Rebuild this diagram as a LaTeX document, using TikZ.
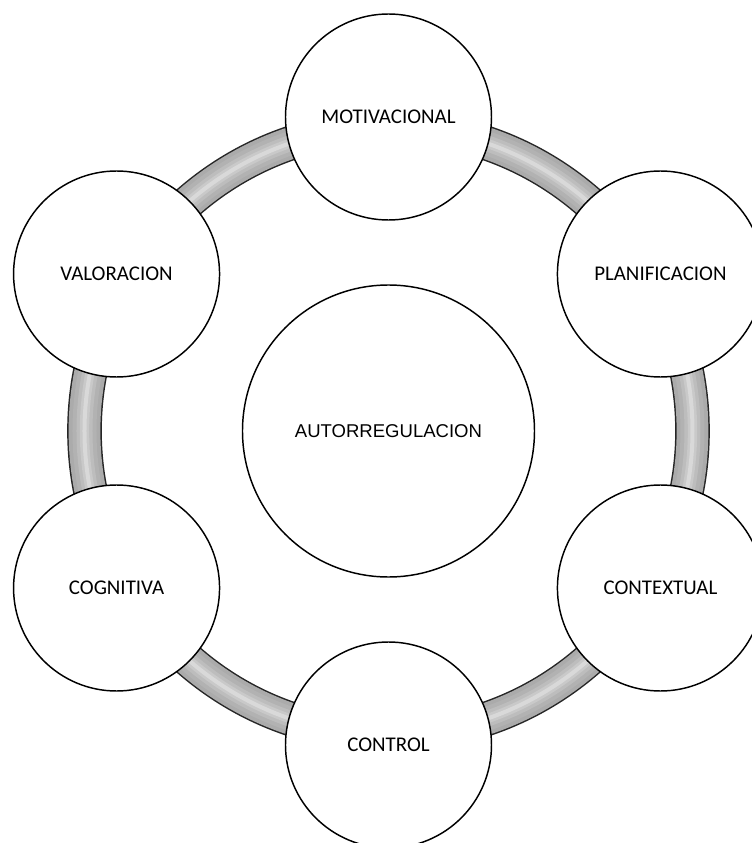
\documentclass[tikz,border=0pt]{standalone}
\usepackage{fontspec}
\setmainfont{Carlito}
\newfontfamily\arialfont{Liberation Sans}
\tikzset{
    stage/.style={circle, draw, line width=1.1pt, fill=white, minimum size=154.5pt, inner sep=0pt, font=\fontsize{15.7}{19}\selectfont},
    hubnode/.style={circle, draw, line width=1.1pt, fill=white, minimum size=219pt, inner sep=0pt, font=\arialfont\fontsize{13.9}{17}\selectfont},
}
\begin{document}
\begin{tikzpicture}[x=0.75pt, y=0.75pt]
    \useasboundingbox (-388.5,-412) rectangle (363.5,431);
    \coordinate (mid) at (0,0);

    % Ring
    \draw [line width=26pt, black!85] (mid) circle (304);
    \draw [line width=23.8pt, gray!66] (mid) circle (304);
    \draw [line width=18pt, gray!60] (mid) circle (304);
    \draw [line width=12pt, gray!52] (mid) circle (304);
    \draw [line width=7pt, gray!42] (mid) circle (304);
    \draw [line width=3pt, gray!30] (mid) circle (304);

    % Centre
    \node [hubnode] (auto) at (mid) {AUTORREGULACION};

    % Stages round the ring
    \node [stage] (motiv) at (90:314) {MOTIVACIONAL};
    \node [stage] (plan) at (30:314) {PLANIFICACION};
    \node [stage] (context) at (-30:314) {CONTEXTUAL};
    \node [stage] (control) at (-90:314) {CONTROL};
    \node [stage] (cogn) at (-150:314) {COGNITIVA};
    \node [stage] (valor) at (150:314) {VALORACION};
\end{tikzpicture}
\end{document}
